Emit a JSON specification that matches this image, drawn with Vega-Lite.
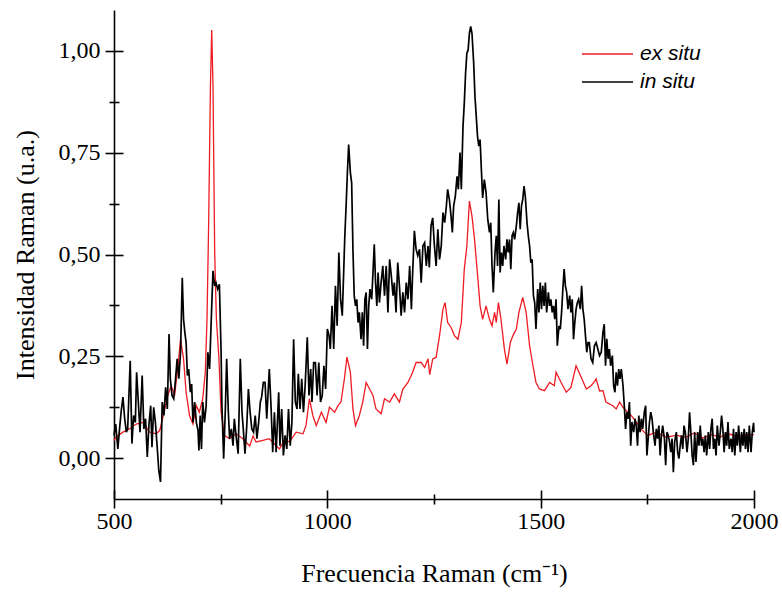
{
"$schema": "https://vega.github.io/schema/vega-lite/v6.json",
"width": 640, "height": 489,
"autosize": {"type": "none"},
"padding": {"left": 114, "top": 10, "right": 28, "bottom": 93},
"background": "white",
"config": {"view": {"stroke": null}},
"datasets": {
"exsitu": [
{"x":500,"y":0.044},{"x":505,"y":0.052},{"x":521,"y":0.064},{"x":536,"y":0.072},{"x":552,"y":0.084},{"x":568,"y":0.088},{"x":583,"y":0.064},{"x":599,"y":0.060},{"x":607,"y":0.068},{"x":614,"y":0.097},{"x":626,"y":0.154},{"x":634,"y":0.178},{"x":642,"y":0.154},{"x":650,"y":0.227},{"x":656,"y":0.292},{"x":663,"y":0.244},{"x":669,"y":0.162},{"x":677,"y":0.105},{"x":685,"y":0.084},{"x":693,"y":0.129},{"x":700,"y":0.113},{"x":708,"y":0.146},{"x":714,"y":0.211},{"x":718,"y":0.341},{"x":722,"y":0.586},{"x":726,"y":0.913},{"x":729,"y":1.051},{"x":732,"y":0.913},{"x":736,"y":0.505},{"x":740,"y":0.341},{"x":746,"y":0.244},{"x":751,"y":0.113},{"x":759,"y":0.056},{"x":771,"y":0.048},{"x":786,"y":0.060},{"x":802,"y":0.048},{"x":818,"y":0.030},{"x":826,"y":0.055},{"x":833,"y":0.040},{"x":849,"y":0.044},{"x":864,"y":0.048},{"x":876,"y":0.035},{"x":888,"y":0.023},{"x":900,"y":0.045},{"x":911,"y":0.040},{"x":927,"y":0.064},{"x":943,"y":0.060},{"x":950,"y":0.080},{"x":958,"y":0.146},{"x":966,"y":0.105},{"x":974,"y":0.080},{"x":986,"y":0.113},{"x":997,"y":0.088},{"x":1005,"y":0.125},{"x":1017,"y":0.113},{"x":1025,"y":0.129},{"x":1032,"y":0.138},{"x":1040,"y":0.195},{"x":1046,"y":0.248},{"x":1054,"y":0.211},{"x":1060,"y":0.121},{"x":1066,"y":0.080},{"x":1075,"y":0.105},{"x":1083,"y":0.138},{"x":1091,"y":0.186},{"x":1099,"y":0.170},{"x":1107,"y":0.154},{"x":1114,"y":0.121},{"x":1126,"y":0.109},{"x":1134,"y":0.146},{"x":1146,"y":0.138},{"x":1157,"y":0.158},{"x":1169,"y":0.138},{"x":1177,"y":0.170},{"x":1189,"y":0.186},{"x":1200,"y":0.211},{"x":1208,"y":0.235},{"x":1220,"y":0.235},{"x":1228,"y":0.223},{"x":1236,"y":0.244},{"x":1240,"y":0.205},{"x":1247,"y":0.244},{"x":1255,"y":0.248},{"x":1263,"y":0.301},{"x":1271,"y":0.366},{"x":1276,"y":0.382},{"x":1282,"y":0.333},{"x":1290,"y":0.321},{"x":1298,"y":0.301},{"x":1306,"y":0.292},{"x":1314,"y":0.333},{"x":1318,"y":0.407},{"x":1321,"y":0.464},{"x":1327,"y":0.521},{"x":1333,"y":0.631},{"x":1339,"y":0.594},{"x":1345,"y":0.537},{"x":1353,"y":0.439},{"x":1358,"y":0.374},{"x":1364,"y":0.341},{"x":1372,"y":0.374},{"x":1380,"y":0.341},{"x":1386,"y":0.325},{"x":1392,"y":0.358},{"x":1396,"y":0.333},{"x":1401,"y":0.382},{"x":1407,"y":0.341},{"x":1415,"y":0.268},{"x":1421,"y":0.231},{"x":1429,"y":0.284},{"x":1435,"y":0.301},{"x":1443,"y":0.317},{"x":1449,"y":0.358},{"x":1458,"y":0.395},{"x":1466,"y":0.358},{"x":1474,"y":0.276},{"x":1482,"y":0.227},{"x":1489,"y":0.186},{"x":1497,"y":0.170},{"x":1509,"y":0.166},{"x":1521,"y":0.186},{"x":1532,"y":0.178},{"x":1536,"y":0.211},{"x":1548,"y":0.186},{"x":1560,"y":0.162},{"x":1571,"y":0.174},{"x":1583,"y":0.227},{"x":1595,"y":0.199},{"x":1607,"y":0.170},{"x":1618,"y":0.178},{"x":1626,"y":0.188},{"x":1630,"y":0.195},{"x":1638,"y":0.165},{"x":1646,"y":0.166},{"x":1653,"y":0.138},{"x":1669,"y":0.129},{"x":1677,"y":0.121},{"x":1685,"y":0.138},{"x":1693,"y":0.125},{"x":1704,"y":0.113},{"x":1712,"y":0.105},{"x":1724,"y":0.089},{"x":1735,"y":0.072},{"x":1751,"y":0.056},{"x":1771,"y":0.064},{"x":1794,"y":0.052},{"x":1818,"y":0.056},{"x":1841,"y":0.052},{"x":1860,"y":0.062},{"x":1880,"y":0.050},{"x":1900,"y":0.058},{"x":1920,"y":0.052},{"x":1940,"y":0.060},{"x":1960,"y":0.054},{"x":1980,"y":0.058},{"x":2000,"y":0.058}
],
"insitu": [
{"x":500,"y":0.056},{"x":504,"y":0.084},{"x":509,"y":0.023},{"x":513,"y":0.072},{"x":517,"y":0.117},{"x":521,"y":0.150},{"x":525,"y":0.097},{"x":529,"y":0.064},{"x":532,"y":0.072},{"x":538,"y":0.239},{"x":542,"y":0.036},{"x":546,"y":0.105},{"x":550,"y":0.088},{"x":553,"y":0.211},{"x":557,"y":0.138},{"x":561,"y":0.064},{"x":566,"y":0.203},{"x":570,"y":0.072},{"x":574,"y":0.097},{"x":578,"y":0.003},{"x":582,"y":0.084},{"x":586,"y":0.129},{"x":589,"y":0.027},{"x":593,"y":0.125},{"x":597,"y":0.088},{"x":601,"y":0.031},{"x":605,"y":-0.030},{"x":609,"y":-0.058},{"x":613,"y":0.138},{"x":617,"y":0.105},{"x":621,"y":0.174},{"x":625,"y":0.121},{"x":629,"y":0.305},{"x":632,"y":0.195},{"x":636,"y":0.154},{"x":640,"y":0.146},{"x":644,"y":0.191},{"x":648,"y":0.244},{"x":652,"y":0.195},{"x":656,"y":0.260},{"x":660,"y":0.443},{"x":663,"y":0.341},{"x":666,"y":0.309},{"x":669,"y":0.284},{"x":672,"y":0.203},{"x":675,"y":0.219},{"x":679,"y":0.162},{"x":682,"y":0.182},{"x":685,"y":0.088},{"x":689,"y":0.138},{"x":693,"y":0.088},{"x":697,"y":0.068},{"x":699,"y":0.019},{"x":702,"y":0.105},{"x":705,"y":0.023},{"x":708,"y":0.138},{"x":712,"y":0.088},{"x":716,"y":0.129},{"x":720,"y":0.260},{"x":724,"y":0.219},{"x":728,"y":0.341},{"x":732,"y":0.460},{"x":736,"y":0.423},{"x":739,"y":0.431},{"x":743,"y":0.415},{"x":747,"y":0.427},{"x":751,"y":0.260},{"x":753,"y":0.129},{"x":757,"y":-0.001},{"x":761,"y":0.121},{"x":764,"y":0.244},{"x":768,"y":0.113},{"x":771,"y":0.048},{"x":775,"y":0.072},{"x":779,"y":0.031},{"x":782,"y":0.097},{"x":786,"y":0.056},{"x":791,"y":0.011},{"x":796,"y":0.244},{"x":800,"y":0.113},{"x":803,"y":0.072},{"x":807,"y":0.011},{"x":811,"y":0.076},{"x":815,"y":0.170},{"x":819,"y":0.113},{"x":823,"y":0.072},{"x":827,"y":0.064},{"x":831,"y":0.105},{"x":835,"y":0.048},{"x":839,"y":0.088},{"x":843,"y":0.138},{"x":846,"y":0.150},{"x":850,"y":0.186},{"x":854,"y":0.186},{"x":858,"y":0.097},
{"x":864,"y":0.219},{"x":868,"y":0.129},{"x":872,"y":0.015},{"x":876,"y":0.113},{"x":880,"y":0.015},{"x":886,"y":0.162},{"x":889,"y":0.031},{"x":893,"y":0.121},{"x":897,"y":0.007},{"x":901,"y":0.056},{"x":905,"y":0.023},{"x":909,"y":0.121},{"x":913,"y":0.031},{"x":917,"y":0.088},{"x":921,"y":0.292},{"x":925,"y":0.138},{"x":929,"y":0.121},{"x":932,"y":0.207},{"x":936,"y":0.121},{"x":940,"y":0.195},{"x":944,"y":0.113},{"x":948,"y":0.178},{"x":953,"y":0.297},{"x":957,"y":0.154},{"x":961,"y":0.219},{"x":964,"y":0.138},{"x":968,"y":0.235},{"x":972,"y":0.235},{"x":976,"y":0.154},{"x":980,"y":0.235},{"x":984,"y":0.138},{"x":988,"y":0.154},{"x":992,"y":0.227},{"x":996,"y":0.170},{"x":1000,"y":0.317},{"x":1004,"y":0.301},{"x":1007,"y":0.268},{"x":1011,"y":0.374},{"x":1015,"y":0.268},{"x":1019,"y":0.423},{"x":1023,"y":0.325},{"x":1027,"y":0.505},{"x":1031,"y":0.390},{"x":1035,"y":0.350},{"x":1038,"y":0.447},{"x":1041,"y":0.546},{"x":1044,"y":0.619},{"x":1047,"y":0.701},{"x":1050,"y":0.770},{"x":1054,"y":0.701},{"x":1057,"y":0.676},{"x":1060,"y":0.513},{"x":1063,"y":0.399},{"x":1066,"y":0.374},{"x":1069,"y":0.390},{"x":1072,"y":0.333},{"x":1075,"y":0.358},{"x":1079,"y":0.292},{"x":1082,"y":0.358},{"x":1085,"y":0.276},{"x":1088,"y":0.390},{"x":1091,"y":0.407},{"x":1094,"y":0.268},{"x":1097,"y":0.374},{"x":1100,"y":0.415},{"x":1104,"y":0.390},{"x":1107,"y":0.456},{"x":1110,"y":0.525},{"x":1113,"y":0.431},{"x":1116,"y":0.374},{"x":1119,"y":0.456},{"x":1122,"y":0.382},{"x":1126,"y":0.431},{"x":1130,"y":0.472},{"x":1134,"y":0.399},{"x":1138,"y":0.472},{"x":1142,"y":0.358},{"x":1146,"y":0.488},{"x":1150,"y":0.447},{"x":1154,"y":0.399},{"x":1157,"y":0.431},{"x":1161,"y":0.358},{"x":1165,"y":0.480},{"x":1169,"y":0.423},{"x":1173,"y":0.350},{"x":1177,"y":0.407},{"x":1181,"y":0.358},{"x":1185,"y":0.431},{"x":1189,"y":0.390},{"x":1193,"y":0.472},{"x":1197,"y":0.366},{"x":1200,"y":0.456},{"x":1204,"y":0.558},{"x":1208,"y":0.513},{"x":1212,"y":0.497},{"x":1216,"y":0.513},{"x":1220,"y":0.431},{"x":1224,"y":0.521},{"x":1228,"y":0.529},{"x":1232,"y":0.472},{"x":1236,"y":0.521},
{"x":1239,"y":0.468},{"x":1243,"y":0.570},{"x":1247,"y":0.590},{"x":1251,"y":0.521},{"x":1255,"y":0.472},{"x":1259,"y":0.562},{"x":1263,"y":0.488},{"x":1267,"y":0.521},{"x":1271,"y":0.603},{"x":1275,"y":0.578},{"x":1279,"y":0.619},{"x":1282,"y":0.660},{"x":1286,"y":0.635},{"x":1290,"y":0.594},{"x":1293,"y":0.554},{"x":1296,"y":0.619},{"x":1300,"y":0.643},{"x":1304,"y":0.692},{"x":1307,"y":0.660},{"x":1311,"y":0.750},{"x":1314,"y":0.660},{"x":1318,"y":0.815},{"x":1321,"y":0.872},{"x":1324,"y":0.945},{"x":1327,"y":0.994},{"x":1330,"y":1.002},{"x":1333,"y":1.043},{"x":1336,"y":1.060},{"x":1339,"y":1.043},{"x":1343,"y":0.970},{"x":1346,"y":0.888},{"x":1349,"y":0.839},{"x":1352,"y":0.790},{"x":1355,"y":0.766},{"x":1358,"y":0.782},{"x":1361,"y":0.709},{"x":1364,"y":0.639},{"x":1368,"y":0.684},{"x":1372,"y":0.652},{"x":1376,"y":0.586},{"x":1380,"y":0.554},{"x":1383,"y":0.578},{"x":1386,"y":0.472},{"x":1389,"y":0.407},{"x":1393,"y":0.505},{"x":1396,"y":0.546},{"x":1399,"y":0.472},{"x":1402,"y":0.635},{"x":1405,"y":0.456},{"x":1408,"y":0.505},{"x":1411,"y":0.472},{"x":1414,"y":0.521},{"x":1418,"y":0.488},{"x":1421,"y":0.537},{"x":1424,"y":0.505},{"x":1427,"y":0.537},{"x":1430,"y":0.464},{"x":1433,"y":0.546},{"x":1436,"y":0.554},{"x":1439,"y":0.537},{"x":1443,"y":0.570},{"x":1446,"y":0.603},{"x":1449,"y":0.627},{"x":1452,"y":0.562},{"x":1455,"y":0.619},{"x":1458,"y":0.635},{"x":1461,"y":0.668},{"x":1464,"y":0.643},{"x":1468,"y":0.578},{"x":1471,"y":0.546},{"x":1474,"y":0.521},{"x":1477,"y":0.480},{"x":1480,"y":0.488},{"x":1483,"y":0.399},{"x":1486,"y":0.382},{"x":1489,"y":0.317},{"x":1493,"y":0.415},{"x":1496,"y":0.358},{"x":1499,"y":0.431},{"x":1502,"y":0.366},{"x":1505,"y":0.423},{"x":1508,"y":0.374},{"x":1511,"y":0.431},{"x":1514,"y":0.358},{"x":1518,"y":0.407},{"x":1521,"y":0.374},{"x":1524,"y":0.390},{"x":1527,"y":0.358},{"x":1530,"y":0.374},{"x":1533,"y":0.341},{"x":1536,"y":0.390},{"x":1539,"y":0.276},{"x":1543,"y":0.325},{"x":1546,"y":0.317},{"x":1549,"y":0.358},{"x":1552,"y":0.415},{"x":1555,"y":0.464},{"x":1558,"y":0.423},{"x":1561,"y":0.407},{"x":1564,"y":0.366},{"x":1568,"y":0.399},{"x":1571,"y":0.358},{"x":1574,"y":0.390},{"x":1577,"y":0.292},{"x":1580,"y":0.333},{"x":1583,"y":0.366},{"x":1586,"y":0.382},{"x":1589,"y":0.390},{"x":1593,"y":0.366},{"x":1596,"y":0.423},{"x":1599,"y":0.366},{"x":1602,"y":0.341},{"x":1605,"y":0.301},{"x":1608,"y":0.260},{"x":1611,"y":0.284},
{"x":1614,"y":0.284},{"x":1618,"y":0.244},{"x":1622,"y":0.235},{"x":1626,"y":0.276},{"x":1630,"y":0.284},{"x":1634,"y":0.268},{"x":1638,"y":0.252},{"x":1642,"y":0.260},{"x":1646,"y":0.309},{"x":1649,"y":0.329},{"x":1652,"y":0.227},{"x":1655,"y":0.293},{"x":1658,"y":0.244},{"x":1661,"y":0.268},{"x":1664,"y":0.227},{"x":1668,"y":0.252},{"x":1671,"y":0.178},{"x":1674,"y":0.162},{"x":1677,"y":0.211},{"x":1680,"y":0.178},{"x":1683,"y":0.219},{"x":1686,"y":0.195},{"x":1689,"y":0.219},{"x":1693,"y":0.178},{"x":1696,"y":0.129},{"x":1699,"y":0.072},{"x":1702,"y":0.113},{"x":1705,"y":0.097},{"x":1708,"y":0.138},{"x":1711,"y":0.031},{"x":1714,"y":0.089},{"x":1718,"y":0.064},{"x":1721,"y":0.097},{"x":1724,"y":0.080},{"x":1727,"y":0.031},{"x":1730,"y":0.105},{"x":1733,"y":0.064},{"x":1736,"y":0.097},{"x":1739,"y":0.072},{"x":1743,"y":0.113},{"x":1746,"y":0.129},{"x":1749,"y":0.007},{"x":1752,"y":0.048},{"x":1755,"y":0.089},{"x":1758,"y":0.113},{"x":1761,"y":0.097},{"x":1764,"y":0.064},{"x":1768,"y":0.031},{"x":1771,"y":0.072},{"x":1774,"y":0.048},{"x":1777,"y":0.080},{"x":1780,"y":0.007},{"x":1783,"y":0.056},{"x":1786,"y":0.080},{"x":1790,"y":0.048},{"x":1793,"y":-0.017},{"x":1796,"y":0.064},{"x":1799,"y":0.056},{"x":1802,"y":0.040},{"x":1805,"y":0.015},{"x":1808,"y":0.048},{"x":1811,"y":-0.034},{"x":1814,"y":0.040},{"x":1818,"y":0.064},{"x":1821,"y":0.015},{"x":1824,"y":-0.001},{"x":1827,"y":0.031},{"x":1830,"y":0.056},{"x":1833,"y":0.023},{"x":1836,"y":0.080},{"x":1839,"y":0.064},{"x":1843,"y":0.015},{"x":1846,"y":0.048},{"x":1849,"y":0.113},{"x":1852,"y":0.064},{"x":1855,"y":0.007},{"x":1858,"y":-0.017},{"x":1861,"y":0.064},{"x":1864,"y":-0.009},{"x":1868,"y":0.064},{"x":1871,"y":0.031},{"x":1874,"y":0.080},{"x":1877,"y":0.031},{"x":1880,"y":0.048},{"x":1883,"y":0.015},{"x":1886,"y":0.056},{"x":1889,"y":0.007},{"x":1893,"y":0.064},{"x":1896,"y":0.023},{"x":1899,"y":0.072},{"x":1902,"y":0.097},{"x":1905,"y":0.023},{"x":1908,"y":0.048},{"x":1911,"y":0.007},{"x":1914,"y":0.080},{"x":1918,"y":0.031},{"x":1921,"y":0.064},{"x":1924,"y":0.105},{"x":1927,"y":0.072},{"x":1930,"y":0.015},{"x":1933,"y":0.064},{"x":1936,"y":0.031},{"x":1939,"y":0.089},{"x":1942,"y":0.023},{"x":1946,"y":0.048},{"x":1949,"y":0.015},{"x":1952,"y":0.072},{"x":1955,"y":0.007},{"x":1958,"y":0.064},{"x":1961,"y":0.031},{"x":1964,"y":0.080},{"x":1968,"y":0.015},{"x":1971,"y":0.064},{"x":1974,"y":0.031},{"x":1977,"y":0.072},{"x":1980,"y":0.023},{"x":1983,"y":0.064},{"x":1986,"y":0.015},{"x":1989,"y":0.080},{"x":1993,"y":0.015},{"x":1996,"y":0.064},{"x":1999,"y":0.087},{"x":2000,"y":0.064}
]
},
"layer": [
{
"data": {"name": "exsitu"},
"mark": {"type": "line", "strokeWidth": 1.3},
"encoding": {
"x": {"field": "x", "type": "quantitative", "scale": {"domain": [500, 2000], "nice": false, "zero": false},
"axis": {"orient": "bottom", "values": [500, 750, 1000, 1250, 1500, 1750, 2000], "grid": false,
"title": "Frecuencia Raman (cm⁻¹)", "titleFont": "Liberation Serif", "titleFontSize": 26, "titleFontWeight": "normal", "titleColor": "#000", "titlePadding": 27,
"labelFont": "Liberation Serif", "labelFontSize": 24, "labelColor": "#000", "labelPadding": 1, "labelFlush": false, "labelOverlap": false,
"labelExpr": "datum.value % 500 === 0 ? '' + datum.value : ''",
"domainColor": "#000", "domainWidth": 1.6, "tickColor": "#000", "tickWidth": 1.6,
"tickSize": {"condition": {"test": "datum.value % 500 !== 0", "value": 5}, "value": 9}}},
"y": {"field": "y", "type": "quantitative", "scale": {"domain": [-0.1, 1.1], "nice": false, "zero": false},
"axis": {"orient": "left", "values": [0, 0.125, 0.25, 0.375, 0.5, 0.625, 0.75, 0.875, 1], "grid": false,
"title": "Intensidad Raman (u.a.)", "titleFont": "Liberation Serif", "titleFontSize": 26, "titleFontWeight": "normal", "titleColor": "#000", "titlePadding": 20,
"labelFont": "Liberation Serif", "labelFontSize": 24, "labelColor": "#000", "labelPadding": 5, "labelFlush": false, "labelOverlap": false,
"labelExpr": "abs(datum.value*4 - round(datum.value*4)) > 0.01 ? '' : replace(format(datum.value, '.2f'), '.', ',')",
"domainColor": "#000", "domainWidth": 1.6, "tickColor": "#000", "tickWidth": 1.6,
"tickSize": {"condition": {"test": "abs(datum.value*4 - round(datum.value*4)) > 0.01", "value": 5}, "value": 9}}},
"color": {"datum": "ex situ", "type": "nominal",
"scale": {"domain": ["ex situ"], "range": ["#ee1c24"]},
"legend": {"orient": "none", "legendX": 467, "legendY": 17.5, "title": null, "padding": 0,
"symbolType": "stroke", "symbolSize": 2601, "symbolStrokeWidth": 1.5,
"labelFont": "Liberation Sans", "labelFontStyle": "italic", "labelFontSize": 21, "labelColor": "#000", "labelOffset": 6}}
}
},
{
"data": {"name": "insitu"},
"mark": {"type": "line", "strokeWidth": 1.7},
"encoding": {
"x": {"field": "x", "type": "quantitative", "scale": {"domain": [500, 2000], "nice": false, "zero": false}, "axis": null},
"y": {"field": "y", "type": "quantitative", "scale": {"domain": [-0.1, 1.1], "nice": false, "zero": false}, "axis": null},
"color": {"datum": "in situ", "type": "nominal",
"scale": {"domain": ["in situ"], "range": ["#000000"]},
"legend": {"orient": "none", "legendX": 467, "legendY": 45.5, "title": null, "padding": 0,
"symbolType": "stroke", "symbolSize": 2601, "symbolStrokeWidth": 1.5,
"labelFont": "Liberation Sans", "labelFontStyle": "italic", "labelFontSize": 21, "labelColor": "#000", "labelOffset": 6}}
}
},
{
"data": {"name": "insitu"},
"mark": {"type": "line", "opacity": 0},
"encoding": {
"x": {"field": "x", "type": "quantitative", "scale": {"domain": [500, 2000], "nice": false, "zero": false},
"axis": {"orient": "bottom", "values": [500, 750, 1000, 1250, 1500, 1750, 2000], "grid": false, "domain": false, "labels": false, "title": null,
"tickColor": "#000", "tickWidth": 1.6,
"tickSize": {"condition": {"test": "datum.value % 500 !== 0", "value": -5}, "value": -9}}},
"y": {"field": "y", "type": "quantitative", "scale": {"domain": [-0.1, 1.1], "nice": false, "zero": false},
"axis": {"orient": "left", "values": [0, 0.125, 0.25, 0.375, 0.5, 0.625, 0.75, 0.875, 1], "grid": false, "domain": false, "labels": false, "title": null,
"tickColor": "#000", "tickWidth": 1.6,
"tickSize": {"condition": {"test": "abs(datum.value*4 - round(datum.value*4)) > 0.01", "value": -5}, "value": -9}}}
}
}
],
"resolve": {"axis": {"x": "independent", "y": "independent"}, "scale": {"color": "independent"}}
}
